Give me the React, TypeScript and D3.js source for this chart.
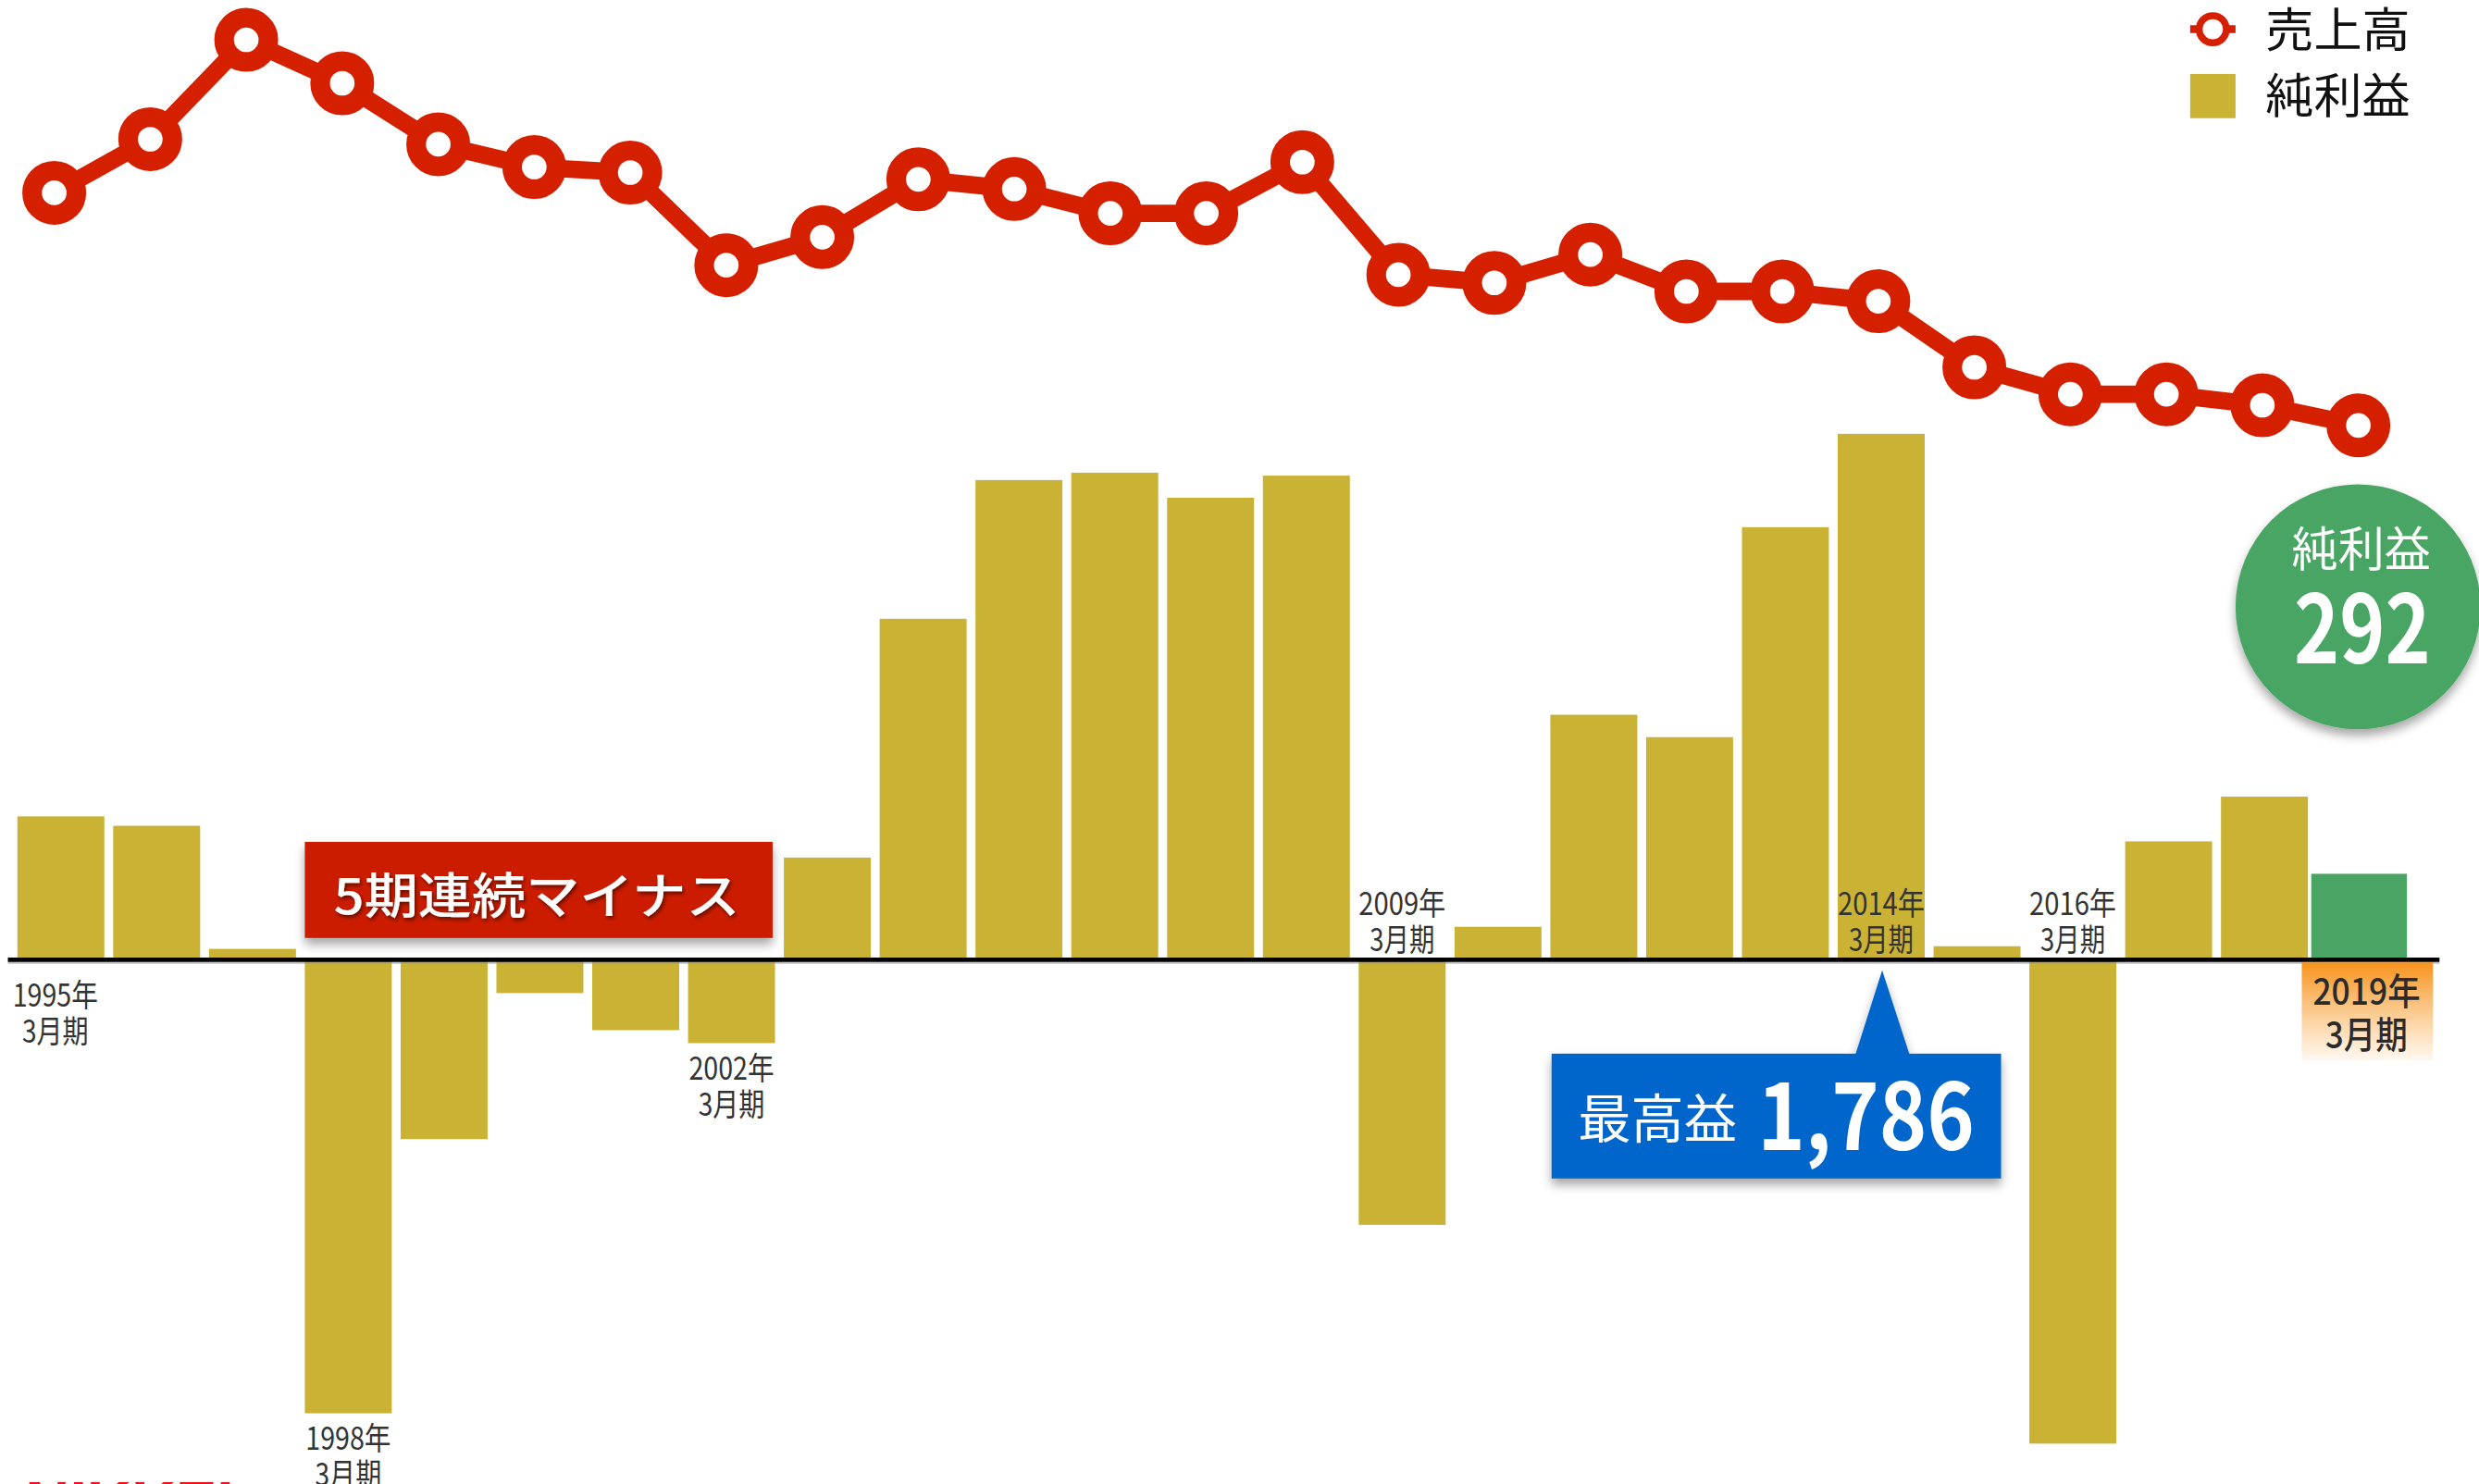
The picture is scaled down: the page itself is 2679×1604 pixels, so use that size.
import React from "react";
import * as d3 from "d3";

// ---- data ----
const years = [
  "1995", "1996", "1997", "1998", "1999", "2000", "2001", "2002", "2003", "2004",
  "2005", "2006", "2007", "2008", "2009", "2010", "2011", "2012", "2013", "2014",
  "2015", "2016", "2017", "2018", "2019",
];
// 純利益 (億円)
const netIncome = [
  487, 455, 37, -1540, -609, -113, -239, -283, 347, 1158,
  1629, 1654, 1569, 1644, -900, 112, 832, 756, 1469, 1786,
  46, -1643, 402, 554, 292,
];
// 売上高 (relative level)
const sales = [
  6950, 7798, 9370, 8683, 7718, 7358, 7270, 5805, 6248, 7163,
  7010, 6625, 6625, 7435, 5655, 5525, 5973, 5390, 5390, 5235,
  4190, 3763, 3763, 3590, 3270,
];
const labelAbove = ["2009", "2014", "2016"];
const labelBelow = ["1995", "1998", "2002"];
const latestYear = "2019";
const recordYear = "2014";
const lossStreakYears = ["1998", "1999", "2000", "2001", "2002"];
const legendItems = ["売上高", "純利益"];

const GOLD = "#cab235";
const RED = "#d52000";
const BOXRED = "#cc1f00";
const BLUE = "#0066cc";
const GREEN = "#4aa564";
const FONT = "'Noto Sans CJK JP', 'Noto Sans', sans-serif";

const VW = 1568;
const VH = 939;

export default function App() {
  const x = d3.scaleBand<string>().domain(years).range([11, 1520.4]).paddingInner(0.0924).paddingOuter(0);
  const xp = d3.scalePoint<string>().domain(years).range([34.3, 1491.7]);
  const y = d3.scaleLinear().domain([0, 1786]).range([607.3, 274.5]);
  const ys = d3.scaleLinear().domain([0, 10000]).range([400, 0]);
  const zero = y(0);
  const bw = x.bandwidth();
  const cx = (yr: string) => (x(yr) as number) + bw / 2;

  const lineGen = d3
    .line<number>()
    .x((_, i) => xp(years[i]) as number)
    .y((d) => ys(d));

  const recIdx = years.indexOf(recordYear);
  const latIdx = years.indexOf(latestYear);
  const recX = cx(recordYear);
  const latX = cx(latestYear);

  const streakX0 = x(lossStreakYears[0]) as number;
  const streakX1 = (x(lossStreakYears[lossStreakYears.length - 1]) as number) + bw;

  return (
    <svg
      width={2679}
      height={1604}
      viewBox={`0 0 ${VW} ${VH}`}
      preserveAspectRatio="none"
      style={{ position: "absolute", left: 0, top: 0, display: "block", background: "#fff" }}
    >
      <defs>
        <filter id="shadow" x="-20%" y="-20%" width="140%" height="160%">
          <feDropShadow dx="0" dy="4" stdDeviation="3" floodColor="#000" floodOpacity="0.35" />
        </filter>
        <filter id="tshadow" x="-10%" y="-20%" width="120%" height="150%">
          <feDropShadow dx="1" dy="1.5" stdDeviation="1.2" floodColor="#000" floodOpacity="0.55" />
        </filter>
        <linearGradient id="orangeGrad" x1="0" y1="0" x2="0" y2="1">
          <stop offset="0" stopColor="#f7931c" stopOpacity="1" />
          <stop offset="1" stopColor="#f9a640" stopOpacity="0.08" />
        </linearGradient>
      </defs>
      <rect x={0} y={0} width={VW} height={VH} fill="#fff" />

      {/* bars */}
      {netIncome.map((v, i) => {
        const yr = years[i];
        const isLatest = yr === latestYear;
        const x0 = (x(yr) as number) - (isLatest ? 3.5 : 0);
        const w = bw + (isLatest ? 5.5 : 0);
        const top = Math.min(y(v), zero);
        const h = Math.abs(y(v) - zero);
        return <rect key={yr} x={x0} y={top} width={w} height={h} fill={isLatest ? GREEN : GOLD} />;
      })}

      {/* baseline */}
      <line x1={5} x2={1543} y1={zero + 2} y2={zero + 2} stroke="#999" strokeWidth={1.2} opacity={0.6} />
      <line x1={5} x2={1543} y1={zero} y2={zero} stroke="#000" strokeWidth={2.8} />

      {/* year labels */}
      {labelBelow.map((yr) => {
        const v = netIncome[years.indexOf(yr)];
        const base = v < 0 ? y(v) + 14.5 : zero + 21;
        const lx = cx(yr) - (v < 0 ? 0 : 3.5);
        return (
          <text key={yr} fontFamily={FONT} fontSize={20} fill="#333" textAnchor="middle" dominantBaseline="central">
            <tspan x={lx} y={base} dominantBaseline="central" textLength={54} lengthAdjust="spacingAndGlyphs">
              {yr}年
            </tspan>
            <tspan x={lx} y={base + 22.5} dominantBaseline="central" textLength={42} lengthAdjust="spacingAndGlyphs">
              3月期
            </tspan>
          </text>
        );
      })}
      {labelAbove.map((yr) => (
        <text key={yr} fontFamily={FONT} fontSize={20} fill="#333" textAnchor="middle" dominantBaseline="central">
          <tspan x={cx(yr)} y={zero - 37} dominantBaseline="central" textLength={55} lengthAdjust="spacingAndGlyphs">
            {yr}年
          </tspan>
          <tspan x={cx(yr)} y={zero - 14.5} dominantBaseline="central" textLength={41} lengthAdjust="spacingAndGlyphs">
            3月期
          </tspan>
        </text>
      ))}

      {/* latest label box */}
      <rect x={latX - 37} y={zero + 1.7} width={83} height={62} fill="url(#orangeGrad)" />
      <text fontFamily={FONT} fontSize={23} fontWeight={500} fill="#2b2b2b" textAnchor="middle" dominantBaseline="central">
        <tspan x={latX + 4} y={zero + 18} dominantBaseline="central" textLength={68} lengthAdjust="spacingAndGlyphs">
          {latestYear}年
        </tspan>
        <tspan x={latX + 4} y={zero + 45.5} dominantBaseline="central" textLength={52} lengthAdjust="spacingAndGlyphs">
          3月期
        </tspan>
      </text>

      {/* 5期連続マイナス callout */}
      <rect x={streakX0} y={532.7} width={streakX1 - streakX0 - 1.5} height={60.8} fill={BOXRED} filter="url(#shadow)" />
      <text
        x={211}
        y={565}
        fontFamily={FONT}
        fontSize={31}
        fontWeight={500}
        fill="#fff"
        dominantBaseline="central"
        textLength={257}
        lengthAdjust="spacingAndGlyphs"
        filter="url(#tshadow)"
      >
        {lossStreakYears.length}期連続マイナス
      </text>

      {/* record profit callout */}
      <g filter="url(#shadow)">
        <rect x={981.4} y={666.7} width={284.3} height={79} fill={BLUE} />
        <path d={`M${recX - 16.4},667.5 L${recX + 0.6},614 L${recX + 18},667.5 Z`} fill={BLUE} />
      </g>
      <text fontFamily={FONT} fill="#fff">
        <tspan x={998} y={720} fontSize={33} textLength={100.6} lengthAdjust="spacingAndGlyphs">
          最高益
        </tspan>
        <tspan x={1111.6} y={727.7} fontSize={58} fontWeight={700} textLength={137.4} lengthAdjust="spacingAndGlyphs">
          {d3.format(",")(netIncome[recIdx])}
        </tspan>
      </text>

      {/* latest profit bubble */}
      <circle cx={1491.5} cy={384} r={77.5} fill={GREEN} filter="url(#shadow)" />
      <text fontFamily={FONT} fill="#fff" textAnchor="middle">
        <tspan x={1493.5} y={358} fontSize={30} textLength={88} lengthAdjust="spacingAndGlyphs">
          純利益
        </tspan>
        <tspan x={1494.2} y={420} fontSize={60} fontWeight={700} textLength={86.4} lengthAdjust="spacingAndGlyphs">
          {netIncome[latIdx]}
        </tspan>
      </text>

      {/* sales line */}
      <path d={lineGen(sales) || ""} fill="none" stroke={RED} strokeWidth={11} strokeLinejoin="round" />
      {sales.map((v, i) => (
        <circle key={years[i]} cx={xp(years[i])} cy={ys(v)} r={14} fill="#fff" stroke={RED} strokeWidth={12.4} />
      ))}

      {/* legend */}
      <line x1={1385.3} x2={1414} y1={18.5} y2={18.5} stroke={RED} strokeWidth={5} />
      <circle cx={1399.6} cy={18.5} r={8.6} fill="#fff" stroke={RED} strokeWidth={4.4} />
      <rect x={1385.3} y={46.8} width={28.7} height={28} fill={GOLD} />
      <text fontFamily={FONT} fontSize={30} fill="#111">
        <tspan x={1433} y={30} textLength={91.5} lengthAdjust="spacingAndGlyphs">{legendItems[0]}</tspan>
        <tspan x={1433} y={71.5} textLength={91.5} lengthAdjust="spacingAndGlyphs">{legendItems[1]}</tspan>
      </text>

      {/* source mark, cut off at the bottom edge */}
      <text x={16} y={959} fontFamily="'Liberation Sans', Arial, sans-serif" fontSize={30} fontWeight={700} fill="#e8141e" textLength={132} lengthAdjust="spacingAndGlyphs">
        NIKKEI
      </text>
    </svg>
  );
}
